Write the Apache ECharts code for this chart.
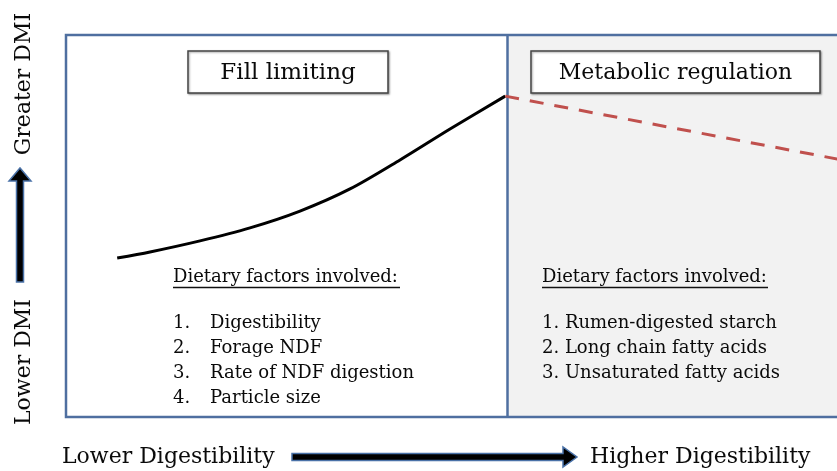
<!DOCTYPE html>
<html>
<head>
<meta charset="utf-8">
<script src="https://cdn.jsdelivr.net/npm/echarts@6/dist/echarts.min.js"></script>
<style>html,body{margin:0;padding:0;background:#fff;}#c{width:837px;height:471px;}</style>
</head>
<body>
<div id="c"></div>
<script>
// ---- data ----
const curveX = [6.4, 10.5, 16.75, 23.0, 29.25, 35.5, 41.75, 48.0, 54.9];
const curveY = [41.6, 43.2, 46.1, 49.5, 53.9, 59.7, 67.3, 75.4, 84.0];
const regX = [54.9, 100];
const regY = [84.0, 66.1];
const dividerX = 55.1;
const leftTitle = 'Fill limiting';
const rightTitle = 'Metabolic regulation';
const factorsHeader = 'Dietary factors involved:';
const leftFactors = ['Digestibility', 'Forage NDF', 'Rate of NDF digestion', 'Particle size'];
const rightFactors = ['Rumen-digested starch', 'Long chain fatty acids', 'Unsaturated fatty acids'];
const yLow = 'Lower DMI', yHigh = 'Greater DMI';
const xLow = 'Lower Digestibility', xHigh = 'Higher Digestibility';

const FONT = '"DejaVu Serif", "Liberation Serif", serif';
const TXT = '#0a0a0a';
const BLUE = '#4f6fa0';

const chart = echarts.init(document.getElementById('c'), null, {renderer: 'canvas'});

const graphics = [];
function txt(x, y, s, size, opts) {
  graphics.push(Object.assign({
    type: 'text', x: x, y: y, z: 100,
    style: Object.assign({text: s, fill: TXT, font: size + 'px ' + FONT, textAlign: 'left', textVerticalAlign: 'middle'}, (opts && opts.style) || {})
  }, opts && opts.el || {}));
}
// title boxes
graphics.push({type: 'rect', z: 90, shape: {x: 188, y: 51, width: 200, height: 42}, style: {fill: '#fff', stroke: '#444', lineWidth: 1.5, shadowBlur: 2, shadowColor: 'rgba(0,0,0,0.35)', shadowOffsetX: 1, shadowOffsetY: 1}});
graphics.push({type: 'rect', z: 90, shape: {x: 531, y: 51, width: 289, height: 42}, style: {fill: '#fff', stroke: '#444', lineWidth: 1.5, shadowBlur: 2, shadowColor: 'rgba(0,0,0,0.35)', shadowOffsetX: 1, shadowOffsetY: 1}});
txt(288, 73, leftTitle, 23, {style: {textAlign: 'center'}});
txt(675.5, 73, rightTitle, 22, {style: {textAlign: 'center'}});
// factor lists
txt(173, 277, factorsHeader, 18);
txt(542, 277, factorsHeader, 18);
graphics.push({type: 'line', z: 100, shape: {x1: 173, y1: 287.5, x2: 400, y2: 287.5}, style: {stroke: '#111', lineWidth: 1.5}});
graphics.push({type: 'line', z: 100, shape: {x1: 542, y1: 287.5, x2: 768, y2: 287.5}, style: {stroke: '#111', lineWidth: 1.5}});
leftFactors.forEach((s, i) => {
  txt(173, 323 + i * 25, (i + 1) + '.', 18);
  txt(210, 323 + i * 25, s, 18);
});
rightFactors.forEach((s, i) => {
  txt(542, 323 + i * 25, (i + 1) + '. ' + s, 18);
});
// axis labels
txt(24, 84, yHigh, 22, {style: {textAlign: 'center'}, el: {rotation: Math.PI / 2}});
txt(24, 362, yLow, 22, {style: {textAlign: 'center'}, el: {rotation: Math.PI / 2}});
txt(62, 457, xLow, 22);
txt(590, 457, xHigh, 22);
// arrows
graphics.push({type: 'polygon', z: 100, shape: {points: [[16.5, 282], [23.5, 282], [23.5, 181], [31, 181], [20, 168], [9, 181], [16.5, 181]]}, style: {fill: '#000', stroke: '#4a72a8', lineWidth: 1.5}});
graphics.push({type: 'polygon', z: 100, shape: {points: [[292, 453.5], [563, 453.5], [563, 447], [577, 457], [563, 467], [563, 460.5], [292, 460.5]]}, style: {fill: '#000', stroke: '#4a72a8', lineWidth: 1.5}});

const option = {
  animation: false,
  backgroundColor: '#fff',
  grid: {left: 66, top: 35, width: 800, height: 382, outerBoundsMode: 'none', containLabel: false, show: true, z: 10, backgroundColor: 'transparent', borderColor: BLUE, borderWidth: 2.5},
  xAxis: {type: 'value', min: 0, max: 100, show: false},
  yAxis: {type: 'value', min: 0, max: 100, show: false},
  series: [
    {
      type: 'line', data: [], z: 1, silent: true,
      markArea: {silent: true, itemStyle: {color: '#f2f2f2'}, data: [[{xAxis: dividerX}, {xAxis: 100}]]},
      markLine: {silent: true, symbol: 'none', label: {show: false}, lineStyle: {color: BLUE, width: 2.5, type: 'solid'}, data: [{xAxis: dividerX}]}
    },
    {
      type: 'line', z: 5, symbol: 'none', smooth: 0.3,
      data: curveX.map((x, i) => [x, curveY[i]]),
      lineStyle: {color: '#000', width: 3}
    },
    {
      type: 'line', z: 5, symbol: 'none',
      data: regX.map((x, i) => [x, regY[i]]),
      lineStyle: {color: '#c0504d', width: 3, type: [14, 11]}
    }
  ],
  graphic: graphics
};
chart.setOption(option);
</script>
</body>
</html>
